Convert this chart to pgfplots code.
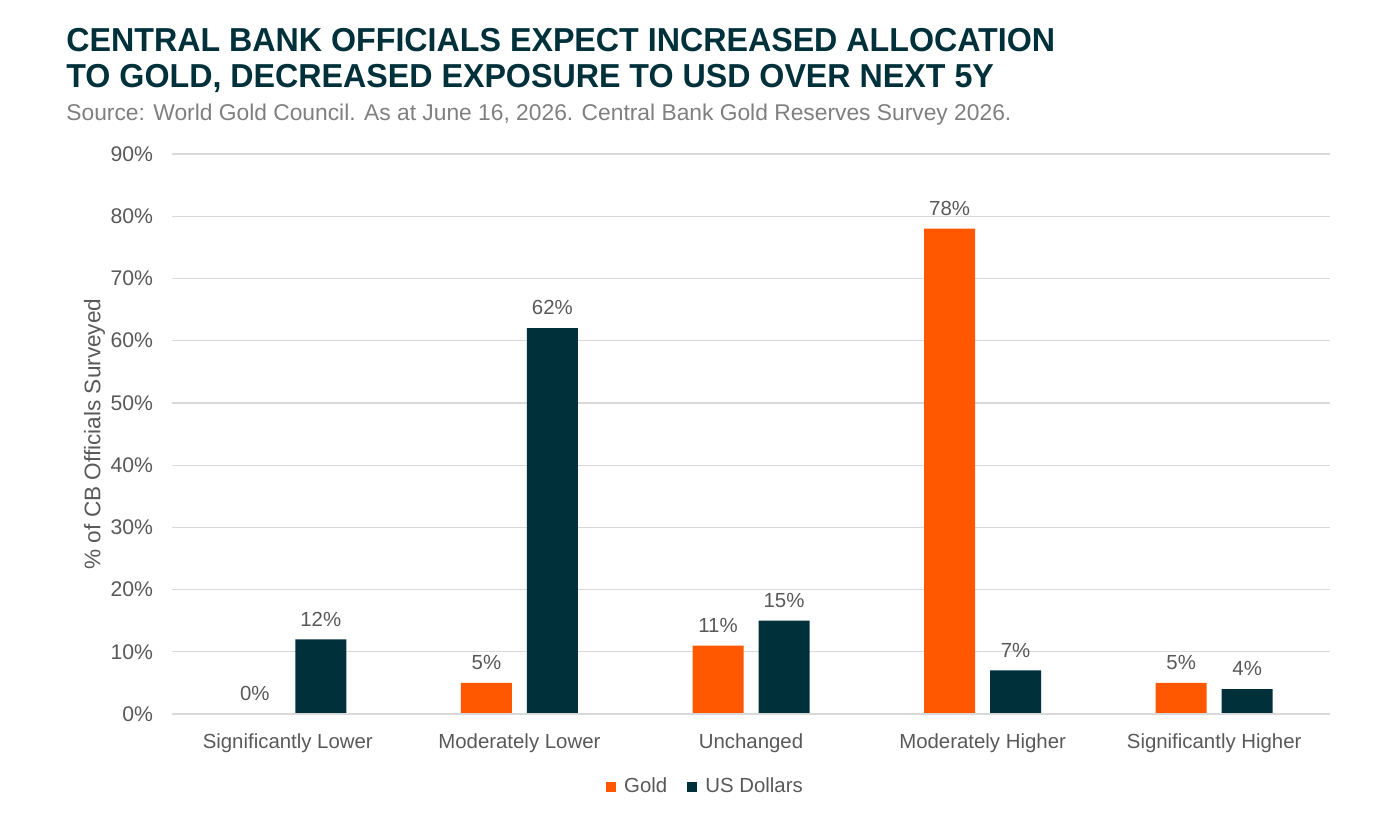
\documentclass[border=0pt]{standalone}
\usepackage{pgfplots}
\pgfplotsset{compat=1.18}
\usepackage{fontspec}
\setmainfont{Liberation Sans}
\newfontfamily\titlefont[FakeStretch=0.97]{Liberation Sans}
\definecolor{goldc}{HTML}{FF5800}
\definecolor{usdc}{HTML}{00303A}
\definecolor{titlec}{HTML}{00313A}
\definecolor{subc}{HTML}{7F7F7F}
\definecolor{labc}{HTML}{595959}
\definecolor{gridc}{HTML}{D9D9D9}
\begin{document}
\begin{tikzpicture}
\path[use as bounding box] (0,0) rectangle (696pt,-414.5pt);
\node[anchor=base west, inner sep=0pt, text=titlec, font=\titlefont\fontsize{16.6pt}{18pt}\selectfont\bfseries] at (33pt,-26pt) {CENTRAL BANK OFFICIALS EXPECT INCREASED ALLOCATION};
\node[anchor=base west, inner sep=0pt, text=titlec, font=\titlefont\fontsize{16.6pt}{18pt}\selectfont\bfseries] at (33pt,-44pt) {TO GOLD, DECREASED EXPOSURE TO USD OVER NEXT 5Y};
\node[anchor=base west, inner sep=0pt, text=subc, font=\fontsize{11.4pt}{12pt}\selectfont] at (33pt,-60pt) {Source: World Gold Council. As at June 16, 2026. Central Bank Gold Reserves Survey 2026.};
\begin{axis}[
  at={(86pt,-357pt)}, anchor=south west,
  scale only axis, width=579pt, height=280pt,
  ymin=0, ymax=90, xmin=-0.5, xmax=4.5,
  ytick={0,10,...,90},
  yticklabel={\pgfmathprintnumber{\tick}\%},
  xtick={0,1,2,3,4},
  xticklabels={Significantly Lower,Moderately Lower,Unchanged,Moderately Higher,Significantly Higher},
  /pgf/number format/assume math mode=true,
  tick label style={font=\fontsize{10.2pt}{11pt}\selectfont, text=labc},
  yticklabel style={font=\fontsize{10.6pt}{11pt}\selectfont, xshift=-6pt},
  xticklabel style={yshift=-6.5pt},
  major tick length=0pt,
  ymajorgrids, grid style={gridc, line width=0.6pt},
  axis line style={draw=none},
  axis x line*=bottom, axis y line*=left,
  ylabel={\% of CB Officials Surveyed},
  ylabel style={font=\fontsize{11.3pt}{12pt}\selectfont, text=labc, at={(rel axis cs:-0.067,0.5)}, anchor=center},
  ybar, bar width=25.5pt,
  nodes near coords={\pgfmathprintnumber{\pgfplotspointmeta}\%},
  nodes near coords style={font=\fontsize{10.2pt}{11pt}\selectfont, text=labc, anchor=south, yshift=3pt},
  legend style={draw=none, at={(0.4616,-0.130)}, anchor=center, legend columns=2,
    font=\fontsize{10.2pt}{11pt}\selectfont, text=labc, column sep=2pt, /tikz/every even column/.append style={column sep=8pt}},
  legend image code/.code={\fill[#1] (0pt,-2.5pt) rectangle (5pt,2.5pt);},
  clip=false,
]
\addplot[fill=goldc, draw=none, bar shift=-16.5pt] coordinates {(0,0) (1,5) (2,11) (3,78) (4,5)};
\addplot[fill=usdc, draw=none, bar shift=16.5pt] coordinates {(0,12) (1,62) (2,15) (3,7) (4,4)};
\draw[gridc, line width=0.8pt] (axis cs:-0.5,0) -- (axis cs:4.5,0);
\legend{Gold, US Dollars}
\end{axis}
\end{tikzpicture}
\end{document}
